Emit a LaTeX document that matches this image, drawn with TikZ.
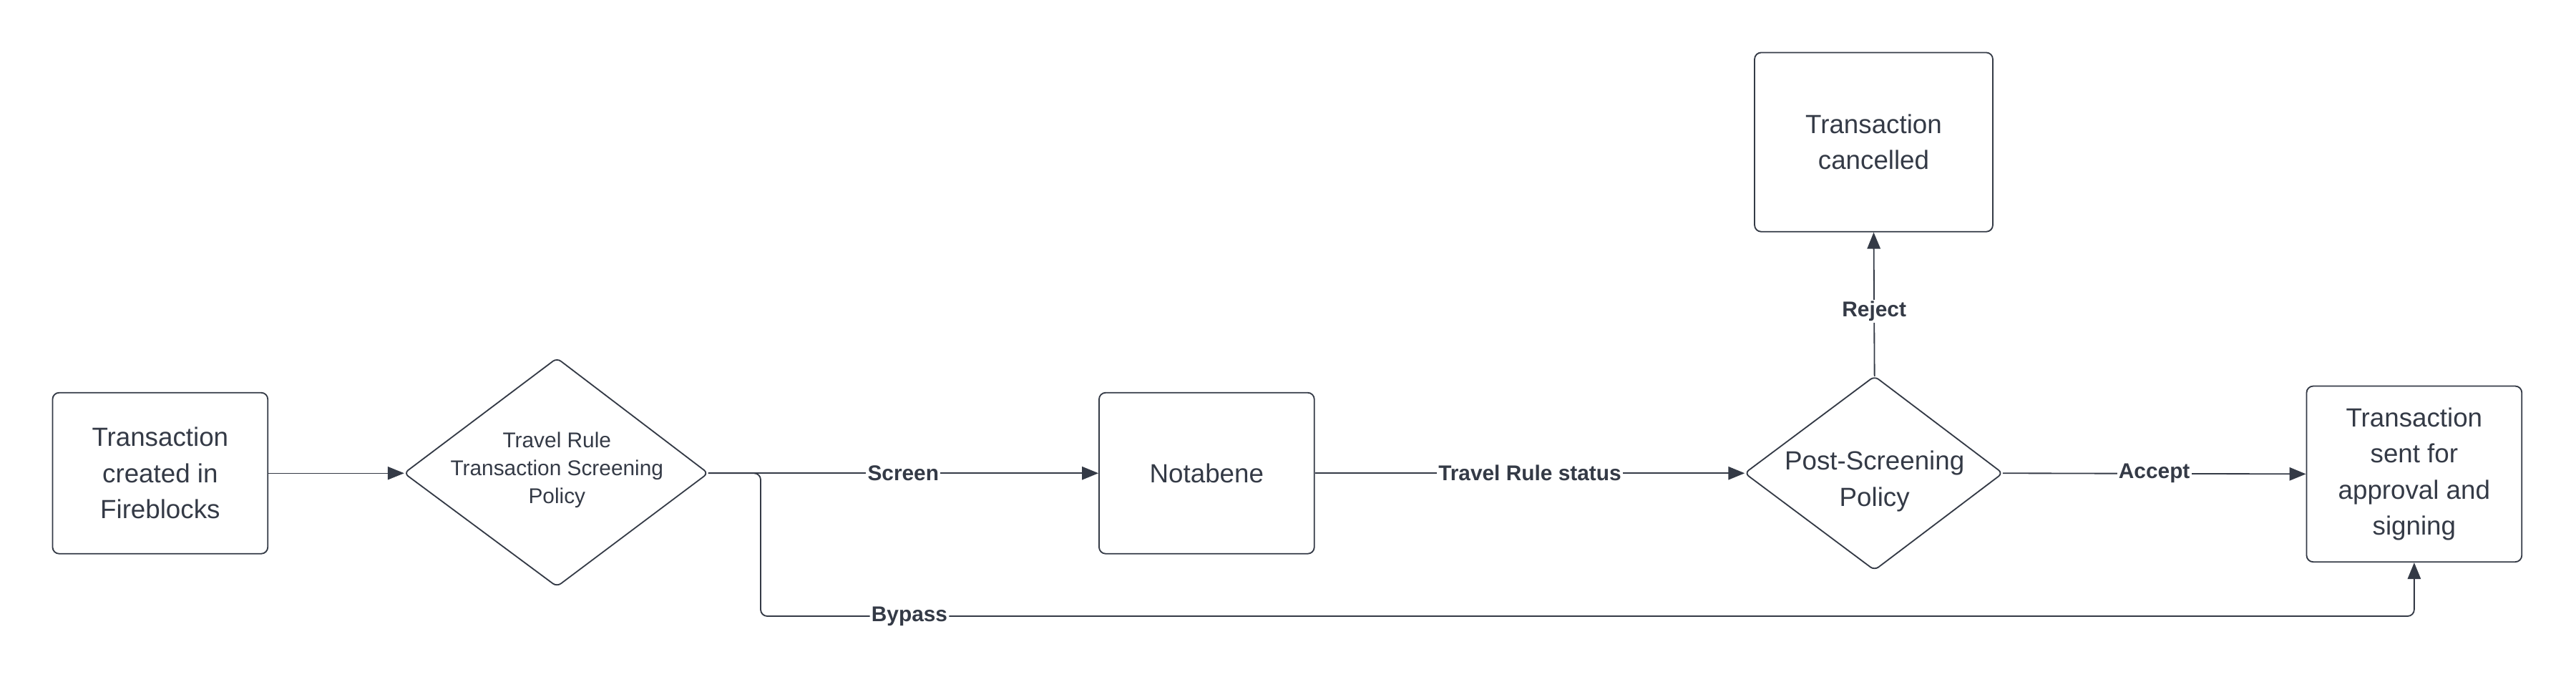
\documentclass[tikz,border=0pt]{standalone}
\usepackage{fontspec}
\setmainfont{Liberation Sans}
\usetikzlibrary{shapes.geometric,arrows.meta}
\definecolor{ink}{HTML}{343A46}
\begin{document}
\begin{tikzpicture}[x=1pt,y=-1pt,
  box/.style={draw=ink,rounded corners=4pt,line width=0.8pt,inner sep=0pt,text=ink,align=center,font=\fontsize{16}{22}\selectfont},
  dia/.style={draw=ink,diamond,line width=0.8pt,inner sep=0pt,text=ink,align=center,rounded corners=3pt},
  conn/.style={draw=ink,line width=0.8pt,-{Triangle[length=10pt,width=8pt]}},
  lab/.style={fill=white,inner sep=1pt,text=ink,font=\bfseries\fontsize{13}{15}\selectfont}]
\useasboundingbox (0,0) rectangle (1568,415);
\node[box,minimum width=131pt,minimum height=98pt] (a) at (97.5,288) {Transaction\\created in\\Fireblocks};
\node[draw=none,minimum width=185pt,minimum height=139pt] (dbox) at (339,288) {};
\draw[ink,line width=0.8pt,rounded corners=3pt] (246,288)--(339,218)--(431,288)--(339,357)--cycle;
\node[text=ink,align=center,font=\fontsize{13}{17}\selectfont] (d1) at (339,286) {Travel Rule\\Transaction Screening\\Policy};
\coordinate (d1w) at (246,288);
\coordinate (d1e) at (431,288);
\node[box,minimum width=131pt,minimum height=98pt] (n) at (734.5,288) {Notabene};
\draw[ink,line width=0.8pt,rounded corners=3pt] (1062,288)--(1141,229)--(1219,288)--(1141,347)--cycle;
\node[text=ink,align=center,font=\fontsize{16}{22}\selectfont] (d2) at (1141,293) {Post-Screening\\Policy};
\coordinate (d2w) at (1062,288);
\coordinate (d2e) at (1219,288);
\coordinate (d2n) at (1141,229);
\node[box,minimum width=145pt,minimum height=109pt] (c) at (1140.5,86.5) {Transaction\\cancelled};
\node[box,minimum width=131pt,minimum height=107pt] (f) at (1469.5,288.5) {Transaction\\sent for\\approval and\\signing};
\draw[draw=ink,line width=0.4pt,-{Triangle[length=10pt,width=8pt]}] (a.east) -- (d1w);
\draw[conn] (d1e) -- node[lab]{Screen} (n.west);
\draw[conn] (n.east) -- node[lab]{Travel Rule status} (d2w);
\draw[conn] (d2e) -- node[lab]{Accept} (f.west);
\draw[conn] (d2n) -- node[lab,pos=0.45]{Reject} (c.south);
\draw[conn,rounded corners=4pt] (d1e) -- (463,288) -- (463,375) -- node[lab,pos=0.09]{Bypass} (1469.5,375) -- (f.south);
\end{tikzpicture}
\end{document}
